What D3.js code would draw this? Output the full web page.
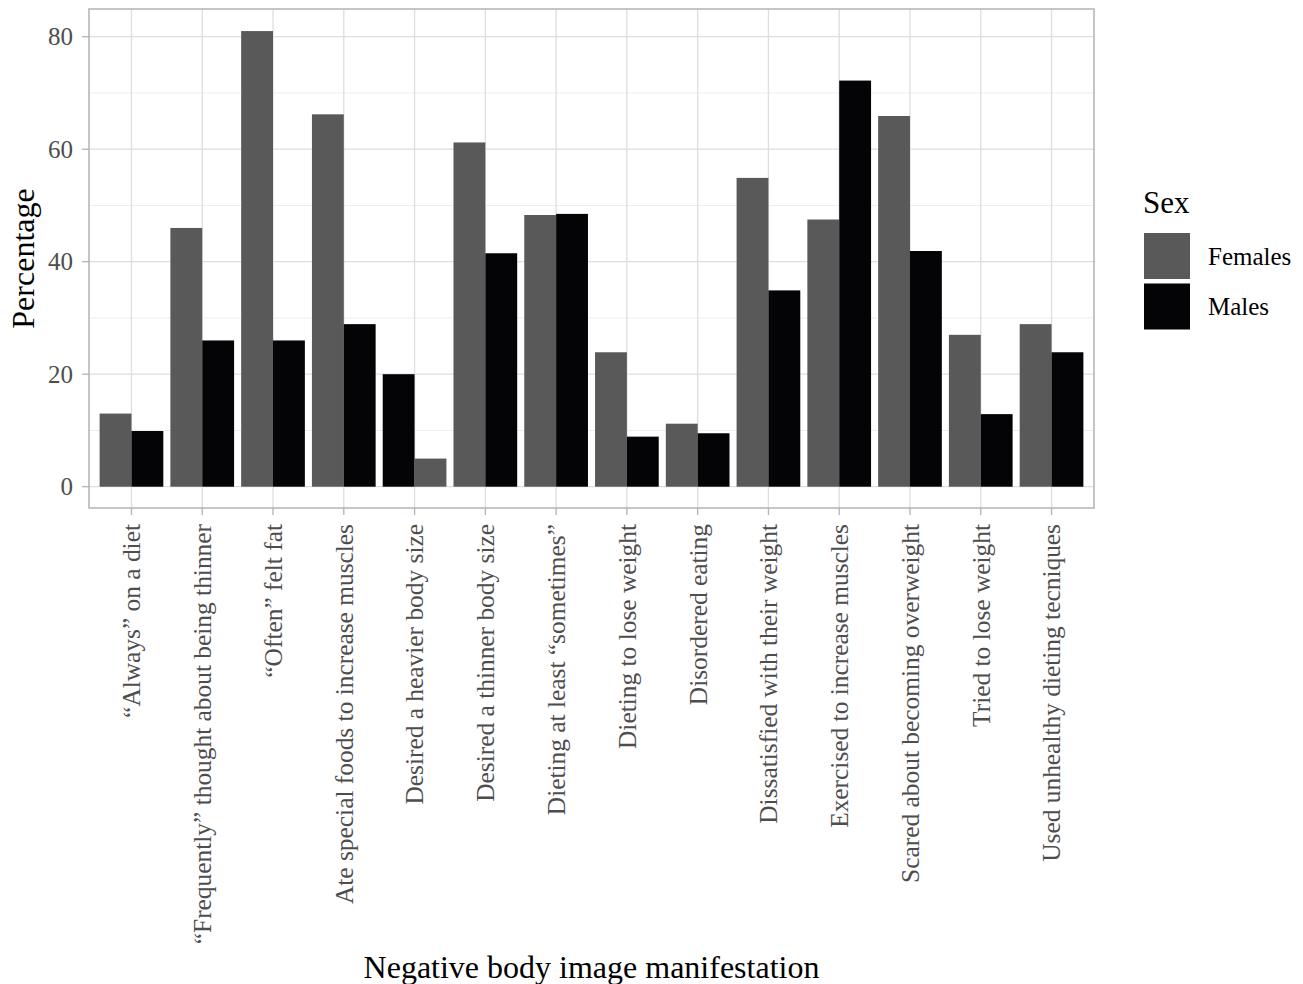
<!DOCTYPE html>
<html><head><meta charset="utf-8">
<script src="https://cdn.jsdelivr.net/npm/d3@7"></script>
<style>body{margin:0;background:#fff}svg{display:block}</style>
</head><body><svg id="c" width="1303" height="984"></svg>
<script>
const categories = [
  "\u201CAlways\u201D on a diet",
  "\u201CFrequently\u201D thought about being thinner",
  "\u201COften\u201D felt fat",
  "Ate special foods to increase muscles",
  "Desired a heavier body size",
  "Desired a thinner body size",
  "Dieting at least \u201Csometimes\u201D",
  "Dieting to lose weight",
  "Disordered eating",
  "Dissatisfied with their weight",
  "Exercised to increase muscles",
  "Scared about becoming overweight",
  "Tried to lose weight",
  "Used unhealthy dieting tecniques"
];
const females = [13, 46, 81, 66.2, 5, 61.2, 48.3, 23.9, 11.2, 54.9, 47.5, 65.9, 27, 28.9];
const males   = [9.9, 26, 26, 28.9, 20, 41.5, 48.5, 8.9, 9.5, 34.9, 72.2, 41.9, 12.9, 23.9];
// categories where the males bar is drawn first (as in the source figure)
const malesFirst = ["Desired a heavier body size"];
const seriesNames = ["Females", "Males"];
const yTicks = [0, 20, 40, 60, 80];
const yMinor = [10, 30, 50, 70];
const colors = {Females: "#595959", Males: "#040306"};

const svg = d3.select("#c");
const P = {left: 89, right: 1094, top: 9, bottom: 508};
const nC = categories.length;
const x = d3.scaleLinear().domain([-0.6, nC - 1 + 0.6]).range([P.left, P.right]);
const unit = x(1) - x(0);
const cx = d => x(categories.indexOf(d));
const y = d3.scaleLinear().domain([0, 80]).range([486.7, 36.7]);
const bw = unit * 0.9 / 2;

const g = svg.append("g");
// grid
g.selectAll(".ymin").data(yMinor).join("line")
  .attr("x1", P.left).attr("x2", P.right).attr("y1", d => y(d)).attr("y2", d => y(d))
  .attr("stroke", "#ededed").attr("stroke-width", 1);
g.selectAll(".ymaj").data(yTicks).join("line")
  .attr("x1", P.left).attr("x2", P.right).attr("y1", d => y(d)).attr("y2", d => y(d))
  .attr("stroke", "#dedede").attr("stroke-width", 1.3);
g.selectAll(".xmaj").data(categories).join("line")
  .attr("x1", d => cx(d)).attr("x2", d => cx(d)).attr("y1", P.top).attr("y2", P.bottom)
  .attr("stroke", "#dedede").attr("stroke-width", 1.3);

// bars
const rows = [];
categories.forEach((c, i) => {
  const order = malesFirst.includes(c) ? ["Males", "Females"] : ["Females", "Males"];
  order.forEach((s, j) => {
    rows.push({c, s, v: s === "Females" ? females[i] : males[i], j});
  });
});
g.selectAll(".bar").data(rows).join("rect")
  .attr("x", d => cx(d.c) - bw + d.j * bw)
  .attr("width", bw)
  .attr("y", d => y(d.v))
  .attr("height", d => y(0) - y(d.v))
  .attr("fill", d => colors[d.s]);

// panel border
g.append("rect").attr("x", P.left).attr("y", P.top).attr("width", P.right - P.left).attr("height", P.bottom - P.top)
  .attr("fill", "none").attr("stroke", "#b3b3b3").attr("stroke-width", 1.5);

// y axis ticks & labels
g.selectAll(".yt").data(yTicks).join("line")
  .attr("x1", P.left - 7).attr("x2", P.left).attr("y1", d => y(d)).attr("y2", d => y(d))
  .attr("stroke", "#b3b3b3").attr("stroke-width", 1.3);
g.selectAll(".yl").data(yTicks).join("text")
  .attr("x", P.left - 16).attr("y", d => y(d)).attr("dy", "0.35em")
  .attr("text-anchor", "end").attr("font-family", "Liberation Serif").attr("font-size", 25)
  .attr("fill", "#4d4d4d").text(d => d);

// x axis ticks & labels
g.selectAll(".xt").data(categories).join("line")
  .attr("x1", d => cx(d)).attr("x2", d => cx(d)).attr("y1", P.bottom).attr("y2", P.bottom + 7)
  .attr("stroke", "#b3b3b3").attr("stroke-width", 1.3);
g.selectAll(".xl").data(categories).join("text")
  .attr("transform", d => `translate(${cx(d)},${P.bottom + 16}) rotate(-90)`)
  .attr("dy", "0.35em").attr("text-anchor", "end")
  .attr("font-family", "Liberation Serif").attr("font-size", 25.4)
  .attr("fill", "#4d4d4d").text(d => d);

// axis titles
svg.append("text").attr("x", (P.left + P.right) / 2).attr("y", 978)
  .attr("text-anchor", "middle").attr("font-family", "Liberation Serif").attr("font-size", 32)
  .attr("fill", "#000").text("Negative body image manifestation");
svg.append("text").attr("transform", `translate(34,${(P.top + P.bottom) / 2}) rotate(-90)`)
  .attr("text-anchor", "middle").attr("font-family", "Liberation Serif").attr("font-size", 32)
  .attr("fill", "#000").text("Percentage");

// legend
const L = svg.append("g");
L.append("text").attr("x", 1143).attr("y", 213).attr("font-family", "Liberation Serif")
  .attr("font-size", 31).attr("fill", "#000").text("Sex");
const lk = L.selectAll(".lk").data(seriesNames).join("g")
  .attr("transform", (d, i) => `translate(1144,${233 + i * 50.5})`);
lk.append("rect").attr("width", 46).attr("height", 46).attr("fill", d => colors[d]);
lk.append("text").attr("x", 64).attr("y", 23).attr("dy", "0.35em")
  .attr("font-family", "Liberation Serif").attr("font-size", 25).attr("fill", "#000").text(d => d);
</script></body></html>
